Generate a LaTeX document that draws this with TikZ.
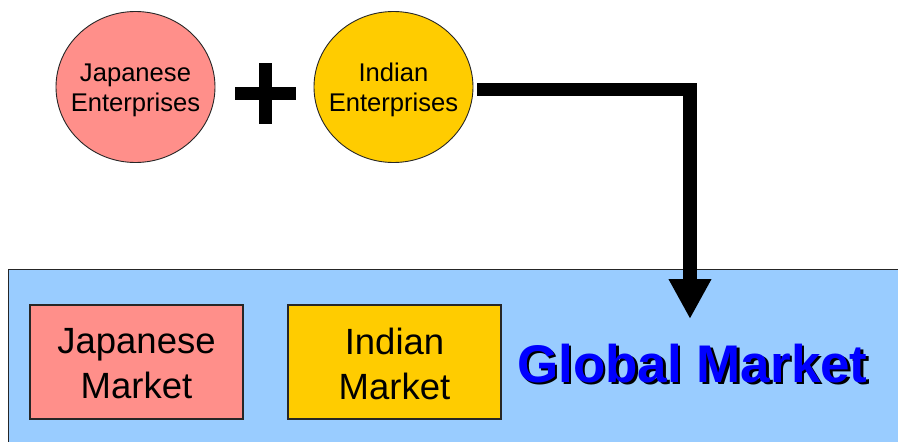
\documentclass[tikz,border=0pt]{standalone}
\usepackage{fontspec}
\setmainfont{Liberation Sans}
\usetikzlibrary{shapes.geometric,arrows.meta}
\definecolor{salmon}{RGB}{255,143,138}
\definecolor{gold}{RGB}{255,204,0}
\definecolor{sky}{RGB}{153,204,255}
\definecolor{gmblue}{RGB}{0,0,255}
\begin{document}
\begin{tikzpicture}[x=1pt,y=-1pt,
  enterprise/.style={ellipse,draw=black!85,line width=0.9pt,minimum width=159pt,minimum height=151pt,inner sep=0pt},
  enttext/.style={align=center,inner sep=0pt,font=\fontsize{25.6}{30}\selectfont},
  market/.style={rectangle,draw=black!85,line width=1.1pt,minimum width=213pt,minimum height=114pt,inner sep=0pt},
  mkttext/.style={align=center,inner sep=0pt,font=\fontsize{36.5}{45}\selectfont},
  bigarrow/.style={line width=13.5pt,line join=miter,-{Triangle[width=40pt,length=40pt]}},
  gmtext/.style={anchor=base west,inner sep=0pt,font=\fontsize{53}{60}\selectfont\bfseries}]
\useasboundingbox (0,0) rectangle (898,442);
% global market area
\node[rectangle,draw=black!85,line width=1.1pt,fill=sky,anchor=north west,minimum width=920pt,minimum height=200pt,inner sep=0pt] (gm) at (8,269) {};
% enterprises
\node[enterprise,fill=salmon] (je) at (135.5,87) {};
\node[enttext] (jet) at (135.5,90.3) {Japanese\\Enterprises};
\node[enterprise,fill=gold] (ie) at (393.5,87) {};
\node[enttext] (iet) at (393.5,90.3) {Indian\\Enterprises};
% plus sign
\fill[black] (258.5,63) rectangle (272,124);
\fill[black] (235,86.5) rectangle (296,100);
% markets
\node[market,fill=salmon] (jm) at (136.5,362) {};
\node[mkttext] (jmt) at (136.5,363.5) {Japanese\\Market};
\node[market,fill=gold] (im) at (394.5,362) {};
\node[mkttext] (imt) at (394.5,364) {Indian\\Market};
% global market text with shadow
\node[gmtext,black] (gms) at (519.5,384.5) {Global Market};
\node[gmtext,gmblue] (gmt) at (517,382) {Global Market};
% arrow
\coordinate (as) at (477,89.5);
\coordinate (ae) at (690,319);
\draw[bigarrow] (as) -- (as -| ae) -- (ae);
\end{tikzpicture}
\end{document}
